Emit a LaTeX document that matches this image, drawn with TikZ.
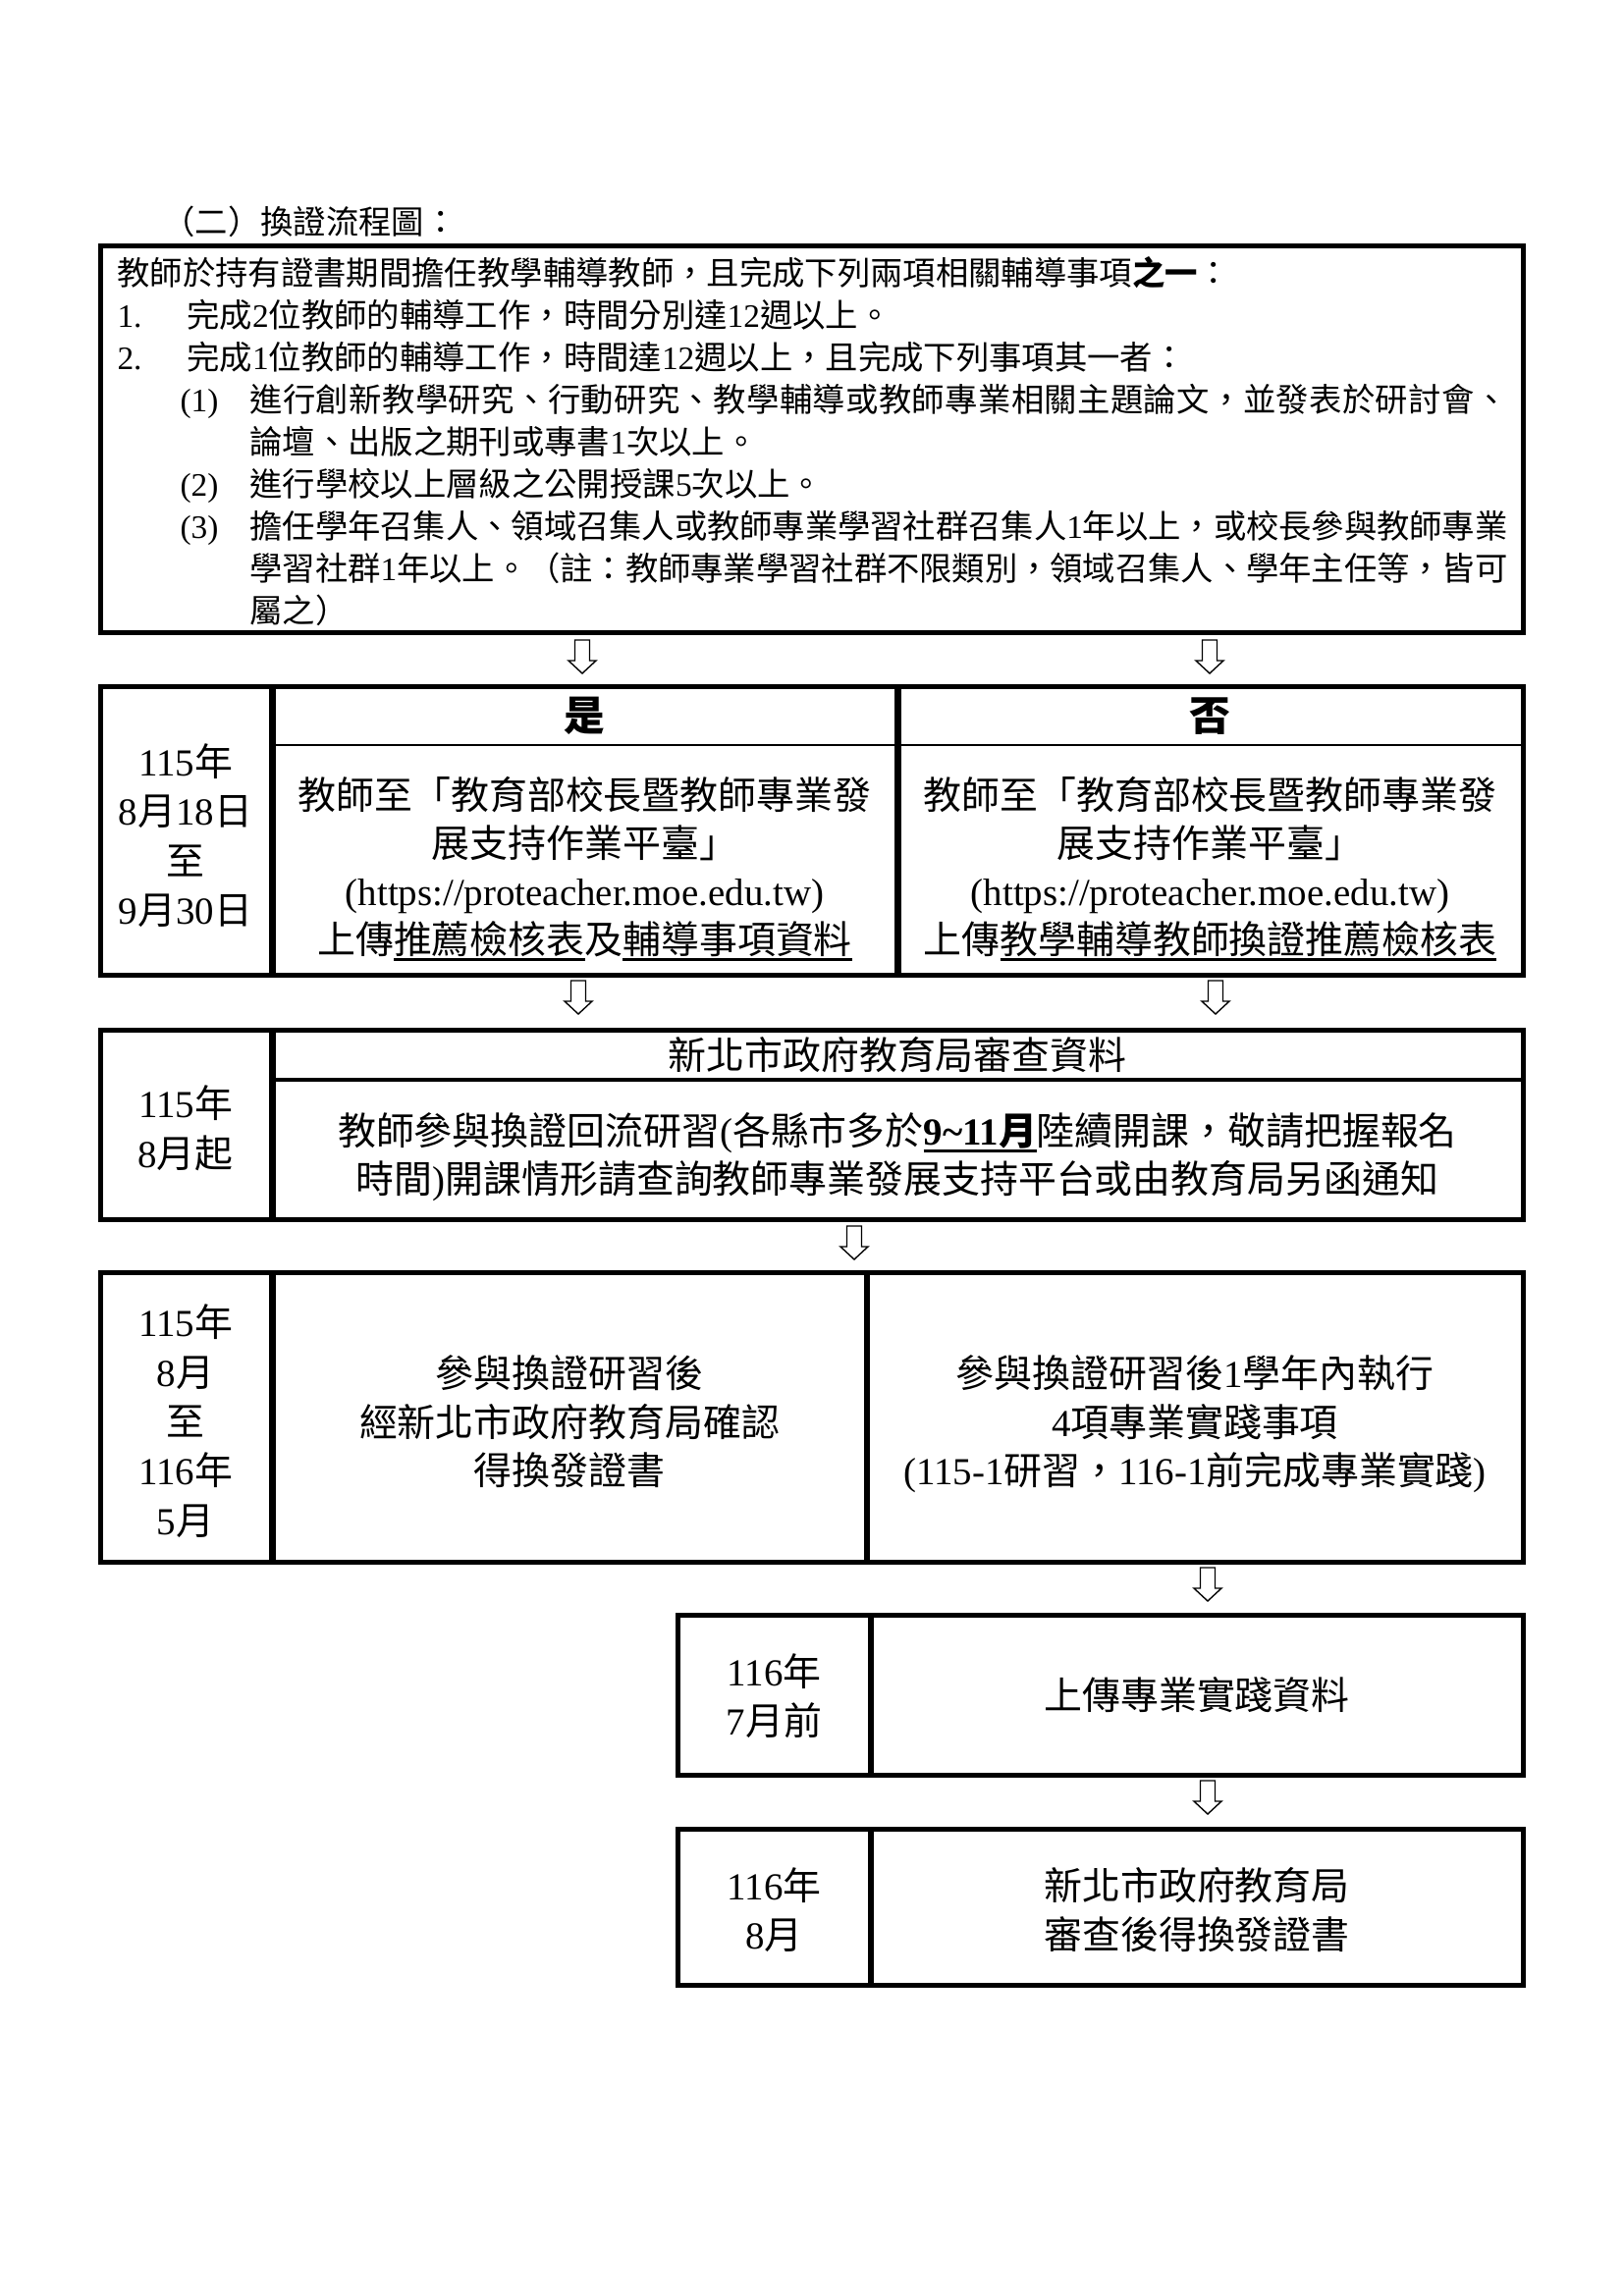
\documentclass[tikz,border=0pt]{standalone}
\usepackage{fontspec}
\setmainfont{Noto Sans CJK TC}
\newfontfamily\lat{Liberation Serif}
\newcommand\tn[1]{{\lat #1}}
\newsavebox\ulbox
\newcommand\ulthick[1]{\sbox\ulbox{#1}\rlap{\rule[-2.6pt]{\wd\ulbox}{1.1pt}}\usebox\ulbox}
\def\jstend{JSTEND}
\def\jstA#1{\ifx\jstend#1\else#1\hskip0pt plus1fil minus1pt\expandafter\jstA\fi}
\newcommand\jst[2]{\hbox to #1{\jstA#2\jstend\unskip}}
\begin{document}
\begin{tikzpicture}[x=0.3599pt,y=-0.3599pt,
  frame/.style={line width=1.8pt, line join=miter},
  divider/.style={line width=2.2pt},
  hline/.style={line width=0.65pt},
  hlinethick/.style={line width=1.3pt},
  t12/.style={inner sep=0pt, font=\fontsize{12}{14}\selectfont, text height=10.6pt, text depth=1.4pt, anchor=west},
  t14/.style={inner sep=0pt, font=\fontsize{14}{17}\selectfont, text height=12.3pt, text depth=1.7pt},
  hdr/.style={inner sep=0pt, font=\fontsize{15}{18}\selectfont\bfseries, text height=13.2pt, text depth=1.8pt},
  hollowarrow/.pic={\draw[line width=0.5pt, fill=white] (-7.5,0) -- (7.5,0) -- (7.5,21) -- (14,21) -- (0,34) -- (-14,21) -- (-7.5,21) -- cycle;}
]
\fill[white] (0,0) rectangle (1654,2339);
\useasboundingbox (0,0) rectangle (1654,2339);

% title
\node[t12] (title) at (165,226) {（二）換證流程圖：};

% ---------- box 1 ----------
\draw[frame] (102.5,250.5) rectangle (1551.5,644.5);
\node[t12] (l1) at (119,278) {教師於持有證書期間擔任教學輔導教師，且完成下列兩項相關輔導事項\textbf{之一}：};
\node[t12] (n1) at (119,321) {\tn{1.}};
\node[t12] (l2) at (190,321) {完成\tn{2}位教師的輔導工作，時間分別達\tn{12}週以上。};
\node[t12] (n2) at (119,364) {\tn{2.}};
\node[t12] (l3) at (190,364) {完成\tn{1}位教師的輔導工作，時間達\tn{12}週以上，且完成下列事項其一者：};
\node[t12] (p1) at (183,407) {\tn{(1)}};
\node[t12] (l4) at (254,407) {\jst{461pt}{進行創新教學研究、行動研究、教學輔導或教師專業相關主題論文，並發表於研討會、}};
\node[t12] (l5) at (254,450) {論壇、出版之期刊或專書\tn{1}次以上。};
\node[t12] (p2) at (183,493) {\tn{(2)}};
\node[t12] (l6) at (254,493) {進行學校以上層級之公開授課\tn{5}次以上。};
\node[t12] (p3) at (183,536) {\tn{(3)}};
\node[t12] (l7) at (254,536) {\jst{461pt}{擔任學年召集人、領域召集人或教師專業學習社群召集人{{\lat 1}}年以上，或校長參與教師專業}};
\node[t12] (l8) at (254,579) {\jst{461pt}{學習社群{{\lat 1}}年以上。（註：教師專業學習社群不限類別，領域召集人、學年主任等，皆可}};
\node[t12] (l9) at (254,622) {屬之）};

% arrows 1
\pic (a1) at (593,652) {hollowarrow};
\pic (a2) at (1232,652) {hollowarrow};

% ---------- box 2 ----------
\draw[hline] (277.5,759) -- (1551.5,759);
\draw[divider] (277.5,699.5) -- (277.5,993);
\draw[divider] (914.5,699.5) -- (914.5,993);
\draw[frame] (102.5,699.5) rectangle (1551.5,993);
\node[hdr] (yes) at (595.5,729) {是};
\node[hdr] (no) at (1232.5,729) {否};
\node[t14] (d2a) at (189,776) {\tn{115}年};
\node[t14] (d2b) at (189,826) {\tn{8}月\tn{18}日};
\node[t14] (d2c) at (189,877) {至};
\node[t14] (d2d) at (189,927) {\tn{9}月\tn{30}日};
\node[t14] (y1) at (595.5,810) {教師至「教育部校長暨教師專業發};
\node[t14] (y2) at (595.5,859) {展支持作業平臺」};
\node[t14] (y3) at (595.5,908) {\tn{(https://proteacher.moe.edu.tw)}};
\node[t14] (y4) at (595.5,957) {上傳\ulthick{推薦檢核表}及\ulthick{輔導事項資料}};
\node[t14] (o1) at (1232.5,810) {教師至「教育部校長暨教師專業發};
\node[t14] (o2) at (1232.5,859) {展支持作業平臺」};
\node[t14] (o3) at (1232.5,908) {\tn{(https://proteacher.moe.edu.tw)}};
\node[t14] (o4) at (1232.5,957) {上傳\ulthick{教學輔導教師換證推薦檢核表}};

% arrows 2
\pic (a3) at (589,999) {hollowarrow};
\pic (a4) at (1238,999) {hollowarrow};

% ---------- box 3 ----------
\draw[hlinethick] (277.5,1100) -- (1551.5,1100);
\draw[divider] (277.5,1049.5) -- (277.5,1242.5);
\draw[frame] (102.5,1049.5) rectangle (1551.5,1242.5);
\node[t14] (h3) at (914,1075) {新北市政府教育局審查資料};
\node[t14] (d3a) at (189,1124) {\tn{115}年};
\node[t14] (d3b) at (189,1175) {\tn{8}月起};
\node[t14] (m3a) at (914,1152) {教師參與換證回流研習\tn{(}各縣市多於\ulthick{{\lat\bfseries 9\textasciitilde 11}\textbf{月}}陸續開課，敬請把握報名};
\node[t14] (m3b) at (914,1201) {時間\tn{)}開課情形請查詢教師專業發展支持平台或由教育局另函通知};

% arrow 3
\pic (a5) at (870,1249) {hollowarrow};

% ---------- box 4 ----------
\draw[divider] (277.5,1296.5) -- (277.5,1591.5);
\draw[divider] (883,1296.5) -- (883,1591.5);
\draw[frame] (102.5,1296.5) rectangle (1551.5,1591.5);
\node[t14] (d4a) at (189,1347) {\tn{115}年};
\node[t14] (d4b) at (189,1398) {\tn{8}月};
\node[t14] (d4c) at (189,1448) {至};
\node[t14] (d4d) at (189,1498) {\tn{116}年};
\node[t14] (d4e) at (189,1549) {\tn{5}月};
\node[t14] (m4a) at (580,1399) {參與換證研習後};
\node[t14] (m4b) at (580,1449) {經新北市政府教育局確認};
\node[t14] (m4c) at (580,1498) {得換發證書};
\node[t14] (r4a) at (1217,1399) {參與換證研習後\tn{1}學年內執行};
\node[t14] (r4b) at (1217,1449) {\tn{4}項專業實踐事項};
\node[t14] (r4c) at (1217,1498) {\tn{(115-1}研習，\tn{116-1}前完成專業實踐\tn{)}};

% arrow 4
\pic (a6) at (1230,1597) {hollowarrow};

% ---------- box 5 ----------
\draw[divider] (887,1645.5) -- (887,1808);
\draw[frame] (690.5,1645.5) rectangle (1551.5,1808);
\node[t14] (d5a) at (788.5,1703) {\tn{116}年};
\node[t14] (d5b) at (788.5,1753) {\tn{7}月前};
\node[t14] (r5) at (1219,1727) {上傳專業實踐資料};

% arrow 5
\pic (a7) at (1230,1814) {hollowarrow};

% ---------- box 6 ----------
\draw[divider] (887,1863.5) -- (887,2022.5);
\draw[frame] (690.5,1863.5) rectangle (1551.5,2022.5);
\node[t14] (d6a) at (788.5,1921) {\tn{116}年};
\node[t14] (d6b) at (788.5,1971) {\tn{8}月};
\node[t14] (r6a) at (1219,1921) {新北市政府教育局};
\node[t14] (r6b) at (1219,1971) {審查後得換發證書};
\end{tikzpicture}
\end{document}
